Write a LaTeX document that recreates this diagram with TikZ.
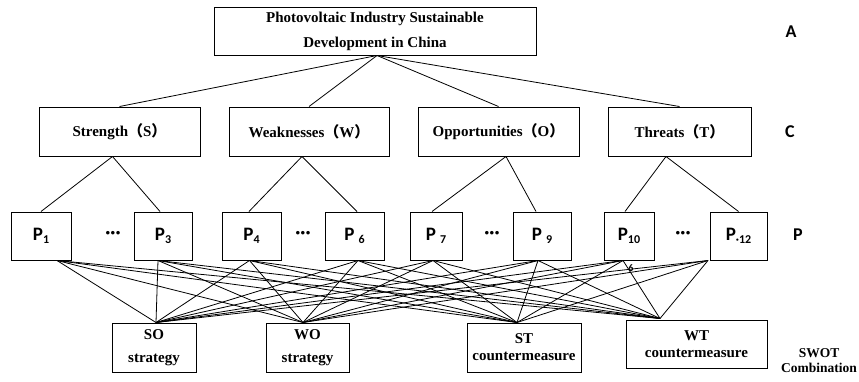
\documentclass[tikz,border=0pt]{standalone}
\usepackage{fontspec}
\setmainfont{Liberation Serif}
\newfontfamily\pfont{Carlito}
\newfontfamily\cjk{Noto Sans CJK SC}
\usetikzlibrary{positioning,calc}

\newcommand{\lpar}{{\cjk （}}
\newcommand{\rpar}{{\cjk ）}}
\newcommand{\psub}[1]{\raisebox{-3pt}{\fontsize{12}{12}\selectfont #1}}

\begin{document}
\begin{tikzpicture}[x=1pt,y=-1pt,
    box/.style={
        rectangle,
        draw,
        line width=1pt,
        inner sep=0pt,
        minimum height=49pt,
        align=center,
        font=\fontsize{15}{25}\selectfont\bfseries
    },
    pbox/.style={
        rectangle,
        draw,
        line width=1pt,
        inner sep=0pt,
        minimum height=48pt,
        font=\pfont\bfseries\fontsize{19}{19}\selectfont
    },
    sbox/.style={
        box,
        font=\fontsize{15}{17}\selectfont\bfseries
    },
    level/.style={font=\pfont\bfseries\fontsize{18}{18}\selectfont},
    more/.style={font=\pfont\bfseries\fontsize{19}{19}\selectfont},
    link/.style={line width=0.8pt}
]
    \useasboundingbox (0,0) rectangle (859,381);

    % Goal
    \node[box, minimum width=322pt, minimum height=48pt] (goal) at (375,31) {Photovoltaic Industry Sustainable\\Development in China};

    % Criteria
    \node[box, minimum width=161pt] (str) at (119.5,131.5) {Strength\lpar S\rpar};
    \node[box, minimum width=160pt] (weak) at (309,131.5) {Weaknesses\lpar W\rpar};
    \node[box, minimum width=161pt] (opp) at (498.5,131.5) {Opportunities\lpar O\rpar};
    \node[box, minimum width=143pt] (thr) at (679.5,131.5) {Threats\lpar T\rpar};

    % Factors
    \node[pbox, minimum width=60pt] (p1) at (41,236) {P\psub{1}};
    \node[pbox, minimum width=58pt] (p3) at (163,236) {P\psub{3}};
    \node[pbox, minimum width=59pt] (p4) at (251.5,236) {P\psub{4}};
    \node[pbox, minimum width=59pt] (p6) at (354.5,236) {P \psub{6}};
    \node[pbox, minimum width=52pt] (p7) at (436,236) {P \psub{7}};
    \node[pbox, minimum width=58pt] (p9) at (542,236) {P \psub{9}};
    \node[pbox, minimum width=50pt] (p10) at (629,236) {P\psub{10}};
    \node[pbox, minimum width=57pt] (p12) at (738.5,236) {P\psub{·12}};

    \node[more] (dots1) at (113,235) {···};
    \node[more] (dots2) at (303,235) {···};
    \node[more] (dots3) at (492,235) {···};
    \node[more] (dots4) at (683,235) {···};
    \node[font=\pfont\bfseries\fontsize{10}{10}\selectfont] (stray) at (631,268) {6};

    % Strategies
    \node[sbox, minimum width=84pt] (so) at (154,347.5) {SO\\[6pt]strategy};
    \node[sbox, minimum width=83pt] (wo) at (307.5,347.5) {WO\\[6pt]strategy};
    \node[sbox, minimum width=114pt] (st) at (524,347.5) {ST\\countermeasure};
    \node[sbox, minimum width=141pt, minimum height=48pt] (wt) at (696.5,344) {WT\\countermeasure};

    % Level labels
    \node[level] (lvla) at (791,32) {A};
    \node[level] (lvlc) at (790,132) {C};
    \node[level] (lvlp) at (798,235) {P};
    \node[font=\fontsize{13.5}{15}\selectfont\bfseries, align=center] (lvls) at (819,361) {SWOT\\Combination};

    % Links
    \foreach \c in {str,weak,opp,thr}
        \draw[link] ([xshift=2pt]goal.south) -- (\c.north);

    \draw[link] ([xshift=-7pt]str.south) -- (p1.north);
    \draw[link] ([xshift=-7pt]str.south) -- ([xshift=-3pt]p3.north);
    \draw[link] ([xshift=-7pt]weak.south) -- ([xshift=-2.5pt]p4.north);
    \draw[link] ([xshift=-7pt]weak.south) -- ([xshift=2.5pt]p6.north);
    \draw[link] ([xshift=7.5pt]opp.south) -- ([xshift=-4pt]p7.north);
    \draw[link] ([xshift=7.5pt]opp.south) -- ([xshift=-6pt]p9.north);
    \draw[link] ([xshift=-13.5pt]thr.south) -- ([xshift=-4pt]p10.north);
    \draw[link] ([xshift=-13.5pt]thr.south) -- (p12.north);

    \foreach \p/\dx in {p1/16,p3/-5,p4/-2,p6/3.5,p7/-3,p9/-4,p10/-6,p12/-30.5}
        \foreach \q/\qx/\qy in {so/2/0,wo/-4.5/0,st/-7/0,wt/-36.5/1}
            \draw[link] ([xshift=\dx pt]\p.south) -- ([xshift=\qx pt,yshift=\qy pt]\q.north);
\end{tikzpicture}
\end{document}
